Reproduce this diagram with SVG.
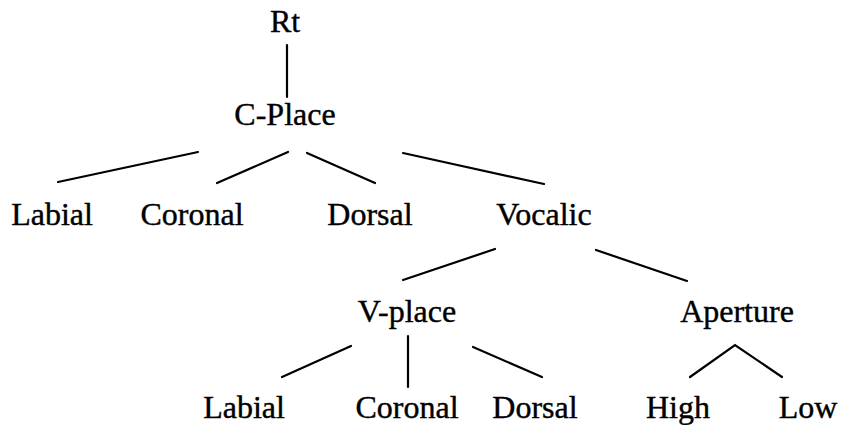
<svg xmlns="http://www.w3.org/2000/svg" width="847" height="425" viewBox="0 0 847 425">
  <style>
    .lbl { font-family: "Liberation Serif", "Times New Roman", serif; font-size: 32px; fill: #000; stroke: #000; stroke-width: 0.4; text-anchor: middle; }
    .edge { stroke: #000; stroke-width: 2.2; fill: none; stroke-linecap: round; stroke-linejoin: miter; }
  </style>
  <rect width="847" height="425" fill="#fff"/>
  <!-- tree edges -->
  <g id="connectors">
    <line class="edge" x1="287" y1="45" x2="287" y2="97"/>
    <line class="edge" x1="58" y1="182" x2="198" y2="152"/>
    <line class="edge" x1="217" y1="183" x2="288" y2="152"/>
    <line class="edge" x1="307" y1="153" x2="375" y2="183"/>
    <line class="edge" x1="403" y1="153" x2="544" y2="184"/>
    <line class="edge" x1="403" y1="280" x2="495" y2="249"/>
    <line class="edge" x1="596" y1="250" x2="687" y2="281"/>
    <line class="edge" x1="282" y1="377" x2="351" y2="346"/>
    <line class="edge" x1="408" y1="336" x2="408" y2="387"/>
    <line class="edge" x1="473" y1="347" x2="542" y2="377"/>
    <polyline class="edge" points="690,377 735,345 782,377"/>
  </g>
  <!-- tree nodes -->
  <g id="rt"><text class="lbl" x="285" y="32">Rt</text></g>
  <g id="c-place"><text class="lbl" x="285" y="125">C-Place</text></g>
  <g id="labial1"><text class="lbl" x="52" y="225">Labial</text></g>
  <g id="coronal1"><text class="lbl" x="192" y="225">Coronal</text></g>
  <g id="dorsal1"><text class="lbl" x="370" y="225">Dorsal</text></g>
  <g id="vocalic"><text class="lbl" x="544" y="225">Vocalic</text></g>
  <g id="v-place"><text class="lbl" x="407" y="322">V-place</text></g>
  <g id="aperture"><text class="lbl" x="737" y="322">Aperture</text></g>
  <g id="labial2"><text class="lbl" x="244" y="418">Labial</text></g>
  <g id="coronal2"><text class="lbl" x="407" y="418">Coronal</text></g>
  <g id="dorsal2"><text class="lbl" x="535" y="418">Dorsal</text></g>
  <g id="high"><text class="lbl" x="678" y="418">High</text></g>
  <g id="low"><text class="lbl" x="808" y="418">Low</text></g>
</svg>
